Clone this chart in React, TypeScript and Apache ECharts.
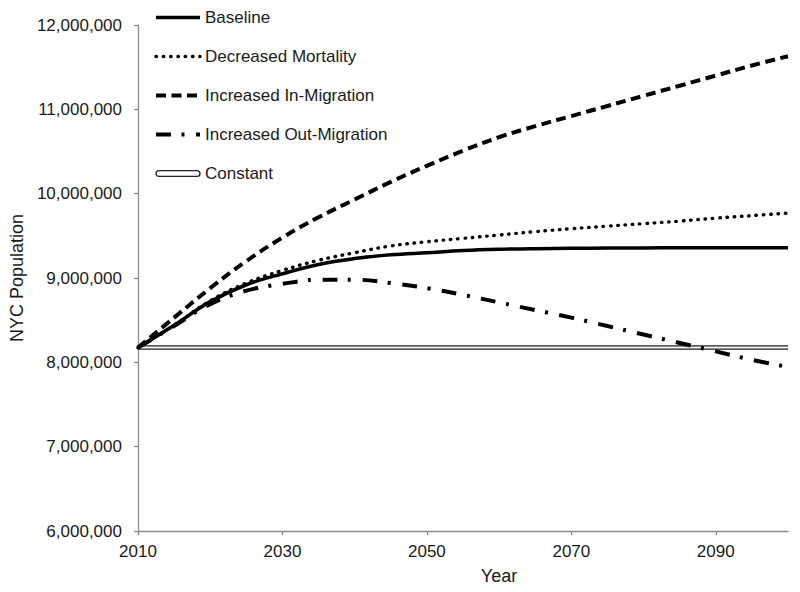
import React, { useEffect, useRef } from "react";
import * as echarts from "echarts";

const years = [2010, 2015, 2020, 2025, 2030, 2035, 2040, 2045, 2050, 2055, 2060, 2065, 2070, 2075, 2080, 2085, 2090, 2095, 2100];
const baseline = [8.175, 8.44, 8.72, 8.92, 9.05, 9.16, 9.23, 9.275, 9.3, 9.325, 9.34, 9.348, 9.352, 9.355, 9.357, 9.358, 9.36, 9.36, 9.36];
const decreasedMortality = [8.175, 8.44, 8.73, 8.94, 9.09, 9.21, 9.3, 9.38, 9.43, 9.47, 9.51, 9.55, 9.585, 9.615, 9.645, 9.675, 9.71, 9.74, 9.77];
const increasedInMigration = [8.175, 8.53, 8.88, 9.2, 9.48, 9.72, 9.93, 10.14, 10.33, 10.51, 10.67, 10.8, 10.92, 11.04, 11.16, 11.28, 11.4, 11.52, 11.63];
const increasedOutMigration = [8.175, 8.43, 8.69, 8.85, 8.93, 8.98, 8.98, 8.94, 8.88, 8.8, 8.71, 8.62, 8.53, 8.43, 8.33, 8.23, 8.13, 8.03, 7.945];
const constant = [8.175, 8.175, 8.175, 8.175, 8.175, 8.175, 8.175, 8.175, 8.175, 8.175, 8.175, 8.175, 8.175, 8.175, 8.175, 8.175, 8.175, 8.175, 8.175];
const xTicks = [2010, 2030, 2050, 2070, 2090];
const seriesNames = ["Baseline", "Decreased Mortality", "Increased In-Migration", "Increased Out-Migration", "Constant"];

const FONT = "'Liberation Sans', Arial, sans-serif";
const toPairs = (vals: number[]) => years.map((y, i) => [y, vals[i] * 1e6]);

export default function App() {
  const ref = useRef<HTMLDivElement>(null);
  useEffect(() => {
    if (!ref.current) return;
    const chart = echarts.init(ref.current, null, { renderer: "svg" });
    const common = { type: "line", symbol: "none", smooth: 0.4, animation: false };
    chart.setOption({
      animation: false,
      backgroundColor: "#fff",
      grid: { left: 135, right: 12, top: 25, bottom: 61, containLabel: false },
      legend: {
        data: [
          seriesNames[0],
          seriesNames[1],
          seriesNames[2],
          seriesNames[3],
          {
            name: seriesNames[4],
            icon: "path://M3,0H43A3,3,0,0,1,43,6H3A3,3,0,0,1,3,0Z",
            itemStyle: { color: "#ffffff", borderColor: "#222", borderWidth: 1.4, opacity: 1 },
          },
        ],
        orient: "vertical",
        left: 149,
        top: 4,
        itemWidth: 44,
        itemHeight: 17,
        itemGap: 22,
        itemStyle: { color: "rgba(0,0,0,0)", borderWidth: 0, opacity: 0 },
        lineStyle: { width: "inherit" },
        textStyle: { fontFamily: FONT, fontSize: 17, color: "#1a1a1a" },
        selectedMode: false,
      },
      xAxis: {
        type: "value",
        min: 2010,
        max: 2100,
        interval: 20,
        name: "Year",
        nameLocation: "middle",
        nameGap: 36,
        nameTextStyle: { fontFamily: FONT, fontSize: 18, color: "#1a1a1a", padding: [0, 0, 0, 72] },
        axisLine: { show: true, lineStyle: { color: "#8c8c8c", width: 1.3 } },
        axisTick: { show: true, length: 4, customValues: xTicks, lineStyle: { color: "#8c8c8c", width: 1.3 } },
        axisLabel: {
          customValues: xTicks,
          fontFamily: FONT,
          fontSize: 17,
          color: "#1a1a1a",
          margin: 12,
          formatter: (v: number) => String(v),
        },
        splitLine: { show: false },
      },
      yAxis: {
        type: "value",
        min: 6e6,
        max: 12e6,
        interval: 1e6,
        name: "NYC Population",
        nameLocation: "middle",
        nameGap: 112,
        nameTextStyle: { fontFamily: FONT, fontSize: 18, color: "#1a1a1a" },
        axisLine: { show: true, lineStyle: { color: "#8c8c8c", width: 1.3 } },
        axisTick: { show: true, length: 4, lineStyle: { color: "#8c8c8c", width: 1.3 } },
        axisLabel: {
          fontFamily: FONT,
          fontSize: 17,
          color: "#1a1a1a",
          margin: 16,
          formatter: (v: number) => v.toLocaleString("en-US"),
        },
        splitLine: { show: false },
      },
      series: [
        {
          ...common,
          name: "Constant",
          data: toPairs(constant),
          z: 1,
          color: "#222",
          lineStyle: { color: "#222", width: 4.5 },
        },
        {
          ...common,
          name: "ConstantInner",
          data: toPairs(constant),
          z: 2,
          color: "#fff",
          lineStyle: { color: "#f4f4f4", width: 2 },
        },
        {
          ...common,
          name: "Baseline",
          data: toPairs(baseline),
          z: 5,
          color: "#000",
          lineStyle: { color: "#000", width: 3.5 },
        },
        {
          ...common,
          name: "Decreased Mortality",
          data: toPairs(decreasedMortality),
          z: 5,
          color: "#000",
          lineStyle: { color: "#000", width: 3.4, type: [0.5, 6.8], cap: "round" },
        },
        {
          ...common,
          name: "Increased In-Migration",
          data: toPairs(increasedInMigration),
          z: 5,
          color: "#000",
          lineStyle: { color: "#000", width: 4, type: [10, 5.5] },
        },
        {
          ...common,
          name: "Increased Out-Migration",
          data: toPairs(increasedOutMigration),
          z: 5,
          color: "#000",
          lineStyle: { color: "#000", width: 4, type: [15, 10.5, 3, 11.5] },
        },
      ],
    });
    return () => chart.dispose();
  }, []);
  return <div ref={ref} style={{ position: "fixed", left: 0, top: 0, width: 800, height: 592 }} />;
}
